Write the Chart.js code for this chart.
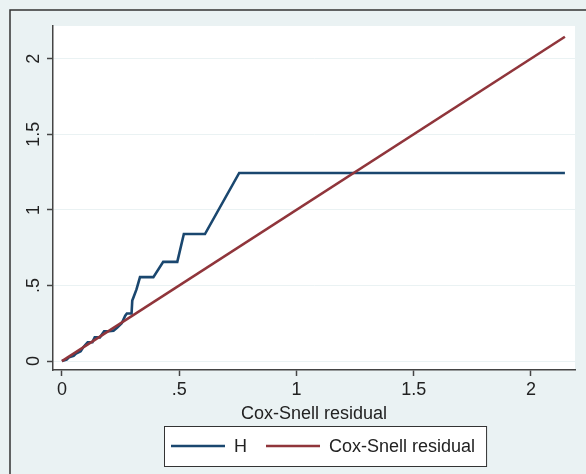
<!DOCTYPE html>
<html>
<head>
<meta charset="utf-8">
<script src="https://cdn.jsdelivr.net/npm/chart.js@4.4.1/dist/chart.umd.min.js"></script>
<style>
    html, body { margin: 0; padding: 0; background: #eaf2f3; }
    canvas { display: block; }
</style>
</head>
<body>
<canvas id="mainChart" width="586" height="474"></canvas>
<script>
// --- DADOS ---
// resíduos de Cox-Snell ordenados e risco acumulado (Nelson-Aalen)
const residX = [0, 0.02, 0.03, 0.05, 0.06, 0.08, 0.09, 0.11, 0.13, 0.14, 0.162, 0.18, 0.20, 0.22, 0.235, 0.255, 0.27, 0.277, 0.297, 0.30, 0.305, 0.318, 0.333, 0.39, 0.432, 0.492, 0.52, 0.61, 0.756, 2.145];
const cumHaz = [0, 0.01, 0.025, 0.035, 0.05, 0.065, 0.09, 0.125, 0.125, 0.157, 0.157, 0.197, 0.197, 0.20, 0.22, 0.25, 0.30, 0.315, 0.315, 0.40, 0.42, 0.474, 0.555, 0.555, 0.656, 0.656, 0.84, 0.84, 1.244, 1.244];
// linha de referência (45 graus)
const refX = [0, 2.145];
const refY = [0, 2.145];

const seriesLabels = ['H', 'Cox-Snell residual'];
const xTicks = [0, 0.5, 1, 1.5, 2];
const yTicks = [0, 0.5, 1, 1.5, 2];
const xTitle = 'Cox-Snell residual';

// --- ESTILO ---
const FONT = '"Liberation Sans", Arial, sans-serif';
const TEXT = '#222';
const AXIS = '#444';
const BG = '#eaf2f3';
const fmt = v => String(v).replace(/^0\./, '.');

// fundo do gráfico e borda externa
const backdrop = {
    id: 'backdrop',
    beforeDraw(chart) {
        const { ctx, chartArea: a } = chart;
        ctx.save();
        ctx.fillStyle = BG;
        ctx.fillRect(0, 0, chart.width, chart.height);
        ctx.strokeStyle = '#333';
        ctx.lineWidth = 1.5;
        ctx.strokeRect(10, 10, chart.width + 20, chart.height + 20);
        ctx.fillStyle = '#fff';
        ctx.fillRect(a.left, a.top, a.right - a.left, a.bottom - a.top);
        ctx.restore();
    }
};

// legenda com caixa (estilo Stata)
const boxLegend = {
    id: 'boxLegend',
    afterDraw(chart) {
        const ctx = chart.ctx;
        const sets = chart.data.datasets;
        const lineLen = 54, gap = 9, itemGap = 19, padL = 7, padR = 11;
        const centerX = 325, top = chart.height - 48, h = 40;
        ctx.save();
        ctx.font = '18px ' + FONT;
        const widths = sets.map(d => ctx.measureText(d.label).width);
        let total = padL + padR + itemGap * (sets.length - 1);
        widths.forEach(w => total += lineLen + gap + w);
        const left = Math.round(centerX - total / 2);
        ctx.fillStyle = '#fff';
        ctx.fillRect(left, top, total, h);
        ctx.strokeStyle = '#333';
        ctx.lineWidth = 1;
        ctx.strokeRect(left + 0.5, top + 0.5, total, h);
        const cy = top + h / 2;
        let x = left + padL;
        sets.forEach((d, i) => {
            ctx.strokeStyle = d.borderColor;
            ctx.lineWidth = d.borderWidth;
            ctx.beginPath();
            ctx.moveTo(x, cy);
            ctx.lineTo(x + lineLen, cy);
            ctx.stroke();
            x += lineLen + gap;
            ctx.fillStyle = TEXT;
            ctx.textBaseline = 'middle';
            ctx.fillText(d.label, x, cy + 1);
            x += widths[i] + itemGap;
        });
        ctx.restore();
    }
};

const ctx = document.getElementById('mainChart').getContext('2d');
const mainChart = new Chart(ctx, {
    type: 'line',
    data: {
        datasets: [
            { label: seriesLabels[0], data: residX.map((x, i) => ({ x, y: cumHaz[i] })), borderColor: '#1a476f', borderWidth: 2.6, order: 1 },
            { label: seriesLabels[1], data: refX.map((x, i) => ({ x, y: refY[i] })), borderColor: '#90353b', borderWidth: 2.6, order: 0 }
        ]
    },
    options: {
        responsive: false,
        animation: false,
        events: [],
        layout: { padding: { top: 26, right: 11, left: 0, bottom: 48.8 } },
        elements: { point: { radius: 0 }, line: { tension: 0, fill: false } },
        plugins: { legend: { display: false }, tooltip: { enabled: false } },
        scales: {
            x: {
                type: 'linear',
                min: -0.038,
                max: 2.188,
                afterBuildTicks: s => { s.ticks = xTicks.map(v => ({ value: v })); },
                border: { color: AXIS, width: 1.5 },
                grid: { drawOnChartArea: false, tickColor: AXIS, tickLength: 6, tickWidth: 1.5 },
                ticks: { callback: fmt, padding: 3, color: TEXT, font: { family: FONT, size: 18, lineHeight: 1.2 }, maxRotation: 0, autoSkip: false },
                title: { display: true, text: xTitle, color: TEXT, padding: { top: 0, bottom: 0 }, font: { family: FONT, size: 18, lineHeight: 1.2 } }
            },
            y: {
                type: 'linear',
                min: -0.059,
                max: 2.216,
                afterBuildTicks: s => { s.ticks = yTicks.map(v => ({ value: v })); },
                afterFit: s => { s.width = 53; },
                border: { color: AXIS, width: 1.5 },
                grid: { color: BG, lineWidth: 1, tickColor: AXIS, tickLength: 6, tickWidth: 1.5 },
                ticks: { callback: fmt, padding: 0.5, color: TEXT, font: { family: FONT, size: 18, lineHeight: 1.2 }, minRotation: 90, maxRotation: 90, crossAlign: 'center', autoSkip: false }
            }
        }
    },
    plugins: [backdrop, boxLegend]
});
</script>
</body>
</html>
